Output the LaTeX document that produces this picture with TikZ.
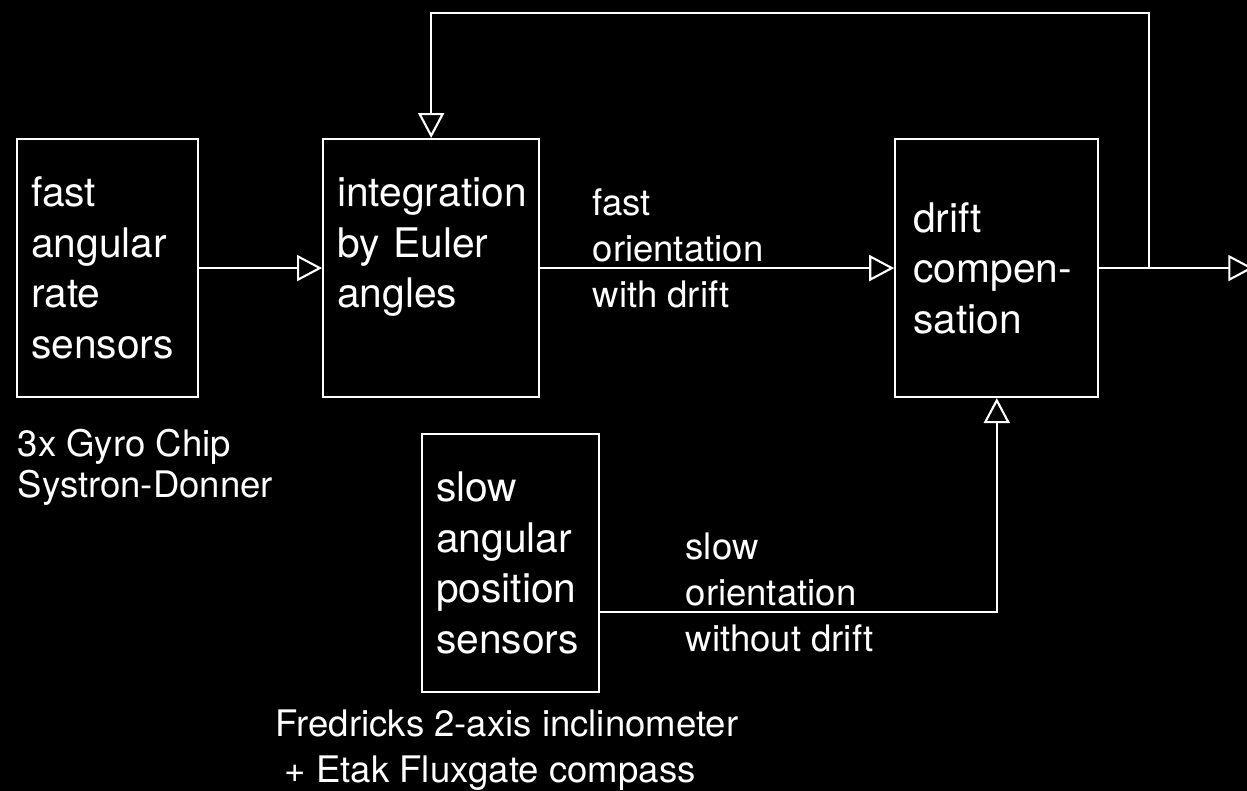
\documentclass[tikz,border=0pt]{standalone}
\usepackage{fontspec}
\setmainfont{TeX Gyre Heros}
\usetikzlibrary{arrows.meta, positioning, calc}

\begin{document}
\begin{tikzpicture}[
            block/.style={rectangle, draw=white, line width=0.6pt, minimum height=2.58cm, inner xsep=0.14cm, inner ysep=0pt, align=left, text=white, font=\fontsize{11.6}{14.4}\selectfont},
            arrow/.style={-{Triangle[open, length=0.25cm, width=0.26cm]}, line width=0.6pt, draw=white},
            note/.style={text=white, align=left, inner sep=0pt, font=\fontsize{10.4}{13.1}\selectfont}
        ]
        \fill[black] (0,0) rectangle (12.47,-7.91);
        \useasboundingbox (0,0) rectangle (12.47,-7.91);

        \node[block, text width=1.53cm, anchor=north west] (rate) at (0.16,-1.38) {fast\\angular\\rate\\sensors};
        \node[block, text width=1.88cm, right=1.23cm of rate] (euler) {integration\\by Euler\\angles\\\mbox{}};
        \node[block, text width=1.67cm, inner xsep=0.18cm, right=3.54cm of euler] (drift) {drift\\\mbox{compen-}\\sation};
        \node[block, text width=1.49cm, anchor=north west] (slow) at (4.21,-4.33) {slow\\angular\\position\\sensors};

        \node[note, anchor=west] (fastlbl) at (5.92,-2.48) {fast\\orientation\\with drift};
        \node[note, anchor=west] (slowlbl) at (6.85,-5.92) {slow\\orientation\\without drift};
        \node[note, anchor=west, font=\fontsize{10.4}{11.7}\selectfont] (gyro) at (0.17,-4.67) {3x Gyro Chip\\Systron-Donner};
        \node[note, anchor=west] (fred) at (2.75,-7.50) {Fredricks 2-axis inclinometer\\\hspace*{0.25em}+ Etak Fluxgate compass};

        \coordinate (split) at ($(drift.east)+(0.50,0)$);
        \coordinate (outend) at ($(drift.east)+(1.54,0)$);

        \draw[arrow] (rate) -- (euler);
        \draw[arrow] (euler) -- (drift);
        \draw[arrow] (drift.east) -- (outend);
        \draw[arrow] (split) -- ++(0,2.55) -| (euler.north);
        \draw[arrow] ([yshift=-0.49cm]slow.east) -| (drift.south);

        \end{tikzpicture}
\end{document}
